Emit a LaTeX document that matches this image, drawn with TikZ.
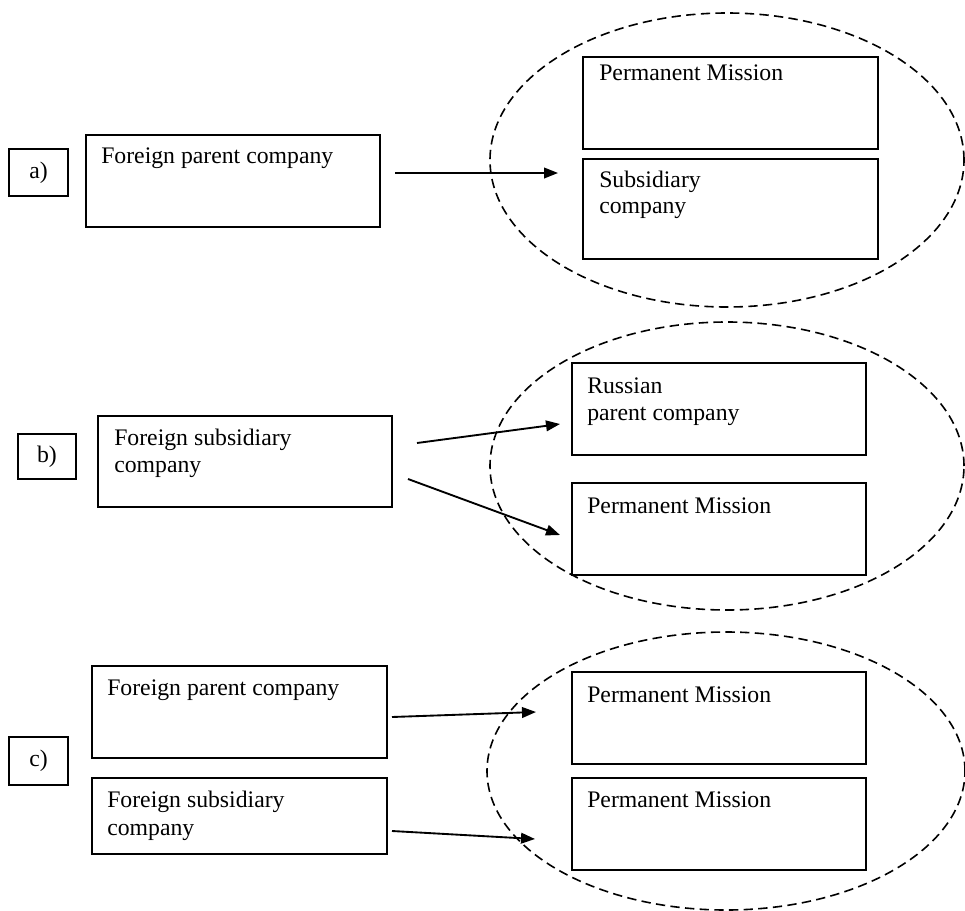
\documentclass[tikz,border=0pt]{standalone}
\usepackage{fontspec}
\setmainfont{Liberation Serif}
\usetikzlibrary{fit,arrows.meta}
\begin{document}
\begin{tikzpicture}[x=0.75pt,y=-0.75pt,
  box/.style={draw,line width=1.5pt,inner sep=0pt,rectangle},
  txt/.style={anchor=base west,inner sep=0pt,font=\fontsize{17.8}{20}\selectfont},
  lbl/.style={inner sep=0pt,font=\fontsize{17.8}{20}\selectfont},
  arr/.style={line width=1.4pt,-{Triangle[length=10.5pt,width=8pt]}},
  oval/.style={draw,line width=1.2pt,dash pattern=on 7pt off 4pt}]
\useasboundingbox (0,0) rectangle (965,911);

% ---------- a) ----------
\draw[oval] (727,160) ellipse [x radius=177.75pt, y radius=110.25pt];
\node[box,fit={(9,149) (68,196)}] (la) {};
\node[lbl] (lat) at (la.center) {a)};
\node[box,fit={(86,135) (380,227)}] (afp) {};
\node[txt] (afpt) at (101,163) {Foreign parent company};
\node[box,fit={(583,57) (878,149)}] (apm) {};
\node[txt] (apmt) at (599,80) {Permanent Mission};
\node[box,fit={(583,159) (878,259)}] (asub) {};
\node[txt] (asubt1) at (599,187) {Subsidiary};
\node[txt] (asubt2) at (599,213) {company};
\coordinate (a1s) at (395,173);
\coordinate (a1e) at (558,173);
\draw[arr] (a1s) -- (a1e);

% ---------- b) ----------
\draw[oval] (727,466) ellipse [x radius=177.75pt, y radius=108pt];
\node[box,fit={(18,434) (76,479)}] (lb) {};
\node[lbl] (lbt) at (lb.center) {b)};
\node[box,fit={(98,416) (392,507)}] (bfs) {};
\node[txt] (bfst1) at (114,445) {Foreign subsidiary};
\node[txt] (bfst2) at (114,472) {company};
\node[box,fit={(572,363) (866,455)}] (brp) {};
\node[txt] (brpt1) at (587,393) {Russian};
\node[txt] (brpt2) at (587,420) {parent company};
\node[box,fit={(572,483) (866,575)}] (bpm) {};
\node[txt] (bpmt) at (587,513) {Permanent Mission};
\coordinate (b1s) at (417,443);
\coordinate (b1e) at (560,424);
\coordinate (b2s) at (408,479);
\coordinate (b2e) at (560,535);
\draw[arr] (b1s) -- (b1e);
\draw[arr] (b2s) -- (b2e);

% ---------- c) ----------
\draw[oval] (726,771) ellipse [x radius=179.25pt, y radius=104.25pt];
\node[box,fit={(9,737) (68,785)}] (lc) {};
\node[lbl] (lct) at (lc.center) {c)};
\node[box,fit={(92,666) (387,758)}] (cfp) {};
\node[txt] (cfpt) at (107,695) {Foreign parent company};
\node[box,fit={(92,778) (387,854)}] (cfs) {};
\node[txt] (cfst1) at (107,807) {Foreign subsidiary};
\node[txt] (cfst2) at (107,835) {company};
\node[box,fit={(572,672) (866,764)}] (cpm1) {};
\node[txt] (cpm1t) at (587,702) {Permanent Mission};
\node[box,fit={(572,778) (866,870)}] (cpm2) {};
\node[txt] (cpm2t) at (587,807) {Permanent Mission};
\coordinate (c1s) at (392,717);
\coordinate (c1e) at (536,712);
\coordinate (c2s) at (392,831);
\coordinate (c2e) at (535,839);
\draw[arr] (c1s) -- (c1e);
\draw[arr] (c2s) -- (c2e);
\end{tikzpicture}
\end{document}
